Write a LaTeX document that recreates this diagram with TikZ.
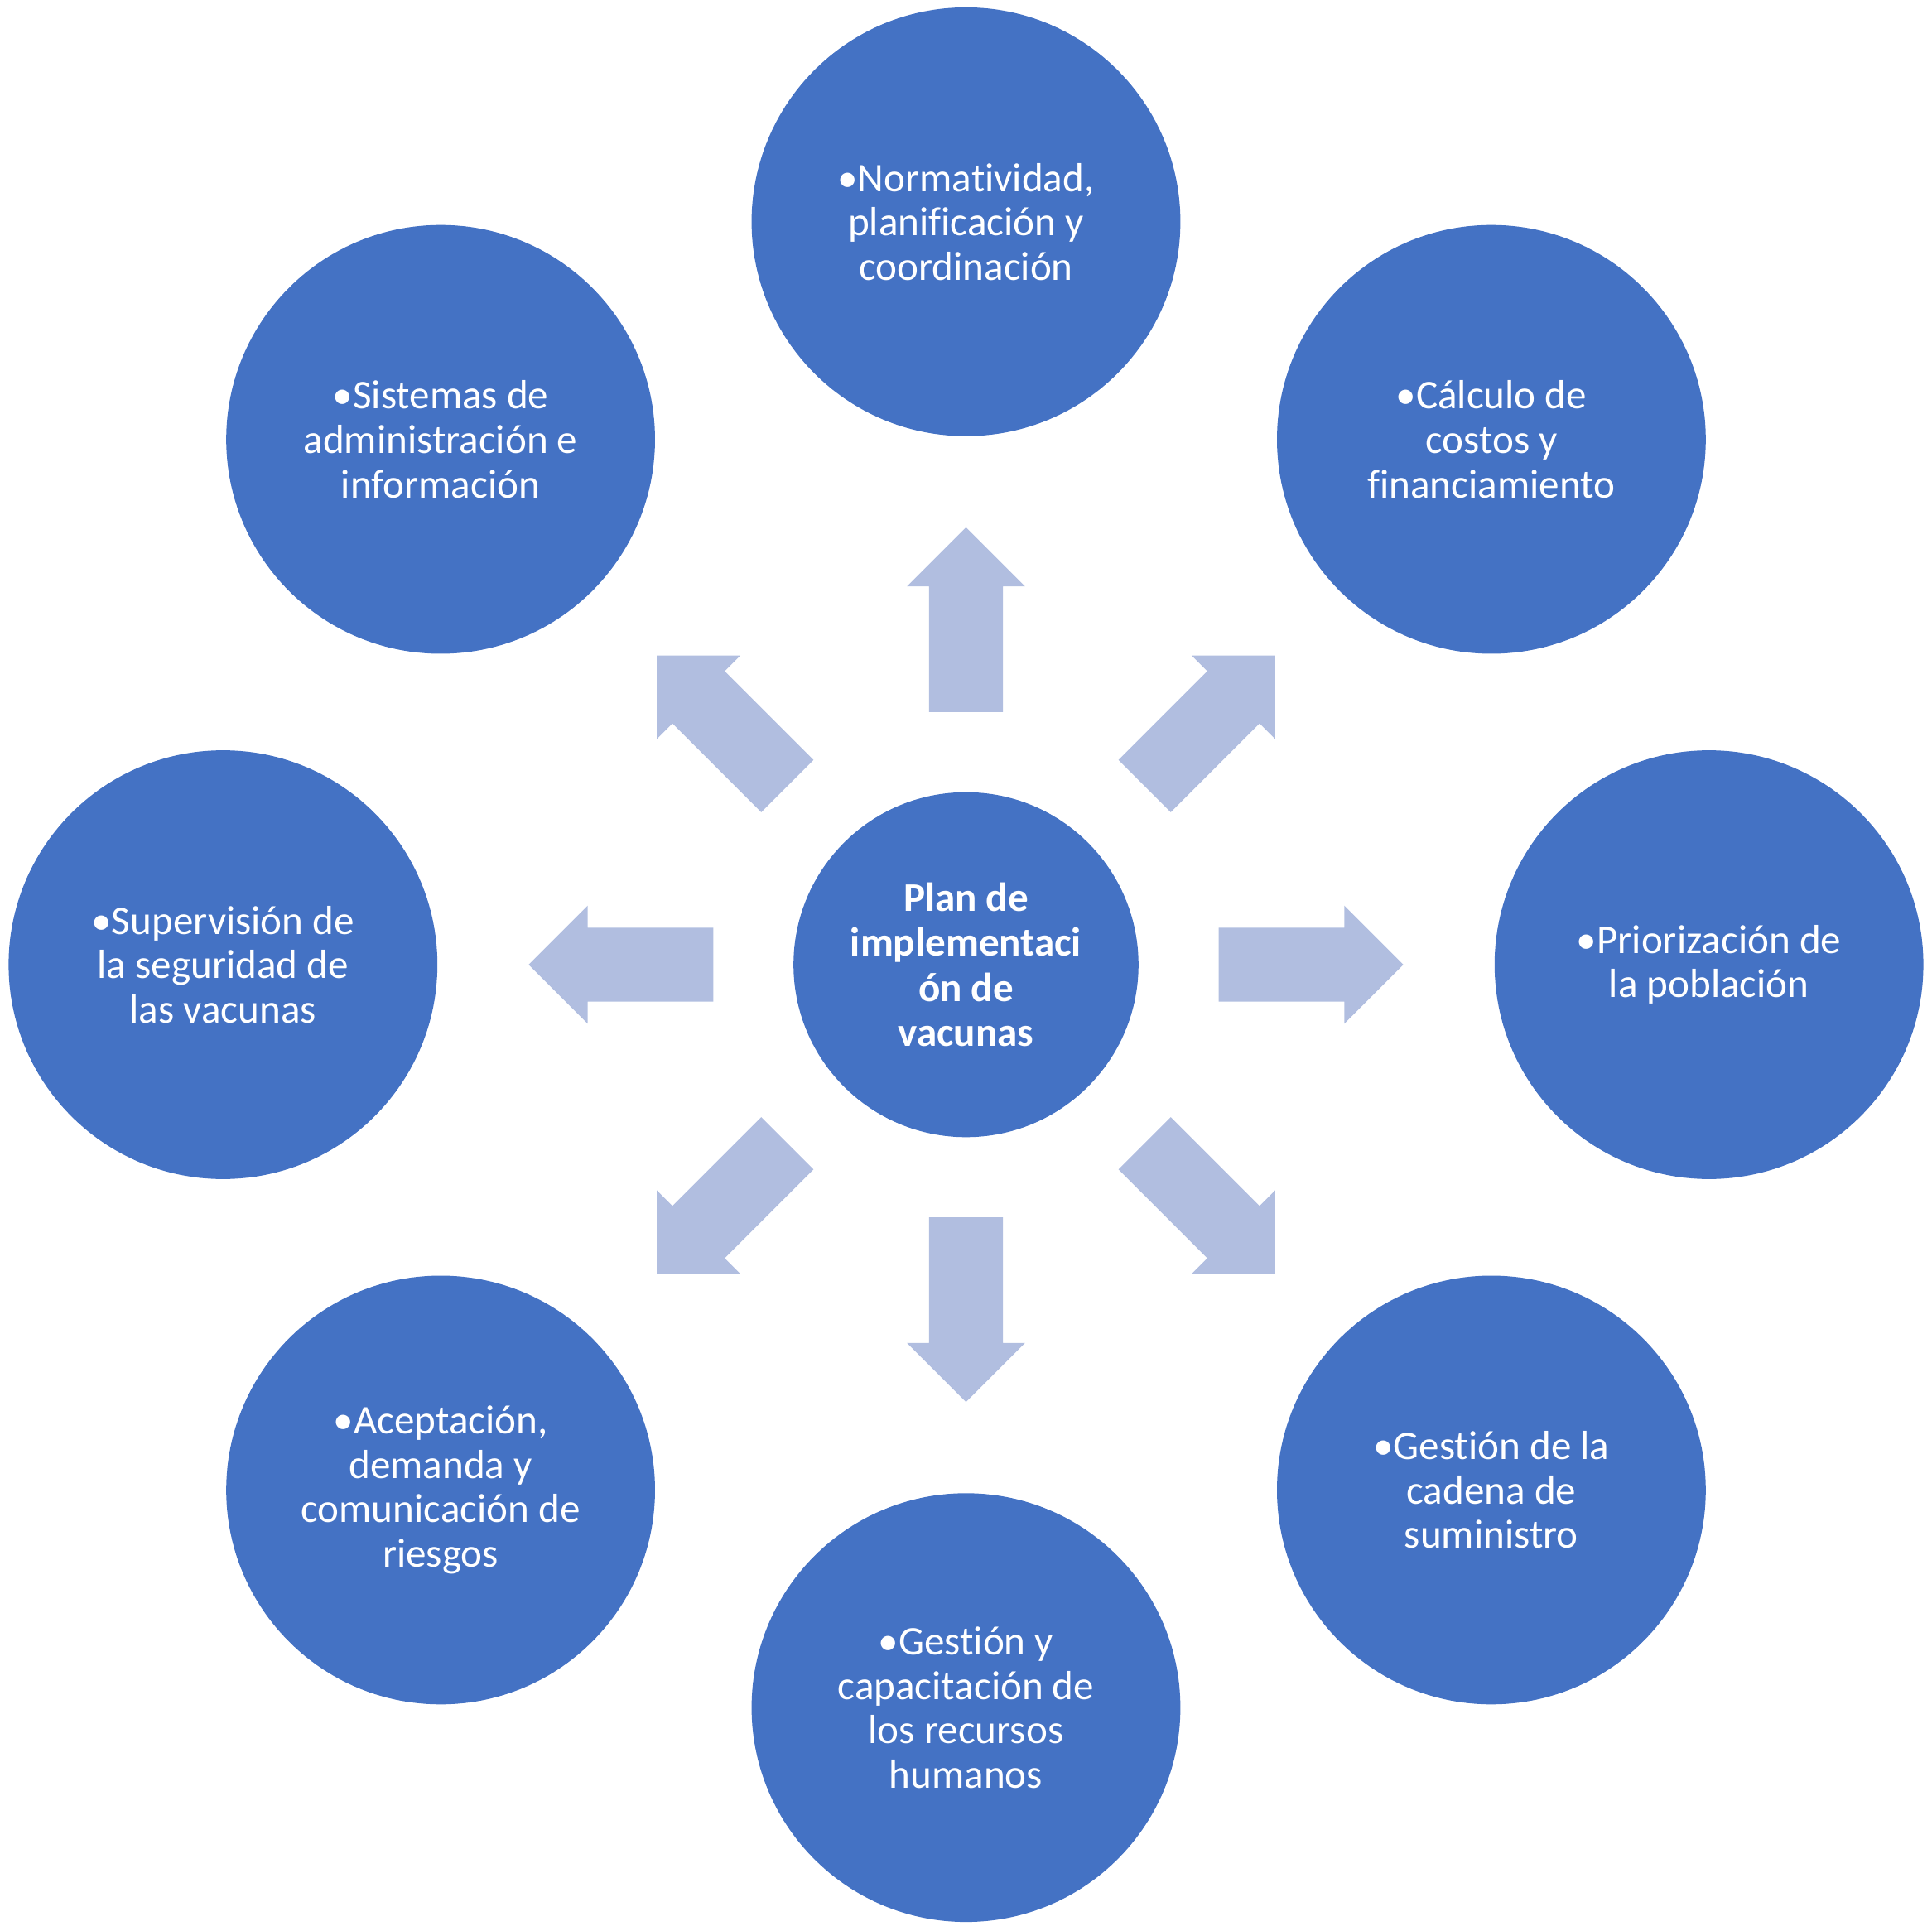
\documentclass[tikz,border=0pt]{standalone}
\usepackage{fontspec}
\setmainfont{Carlito}[Ligatures=NoCommon]
\definecolor{circblue}{RGB}{68,114,196}
\definecolor{arrowblue}{RGB}{177,190,224}

\tikzset{
  topic/.style={circle, fill=circblue, text=white, inner sep=0pt,
    minimum size=174pt, align=center, font=\fontsize{16.5}{18}\selectfont},
  hub/.style={topic, minimum size=140pt, font=\fontsize{16.5}{18.2}\selectfont\bfseries}
}

\begin{document}
\begin{tikzpicture}[x=0.5pt, y=0.5pt]

\useasboundingbox (-784,-784) rectangle (784,783);

\node [hub] (plan) at (0,0) {Plan de\\implementaci\\ón de\\vacunas};

\foreach \a in {0,45,...,315}
  \path [fill=arrowblue, rotate=\a]
  (205,-30) -- (307,-30) -- (307,-48) -- (355,0) -- (307,48) -- (307,30) -- (205,30) -- cycle;

\node [topic] (norma) at (90:603) {•Normatividad,\\planificación y\\coordinación};
\node [topic] (costos) at (45:603) {•Cálculo de\\costos y\\financiamiento};
\node [topic] (prior) at (0:603) {•Priorización de\\la población};
\node [topic] (cadena) at (-45:603) {•Gestión de la\\cadena de\\suministro};
\node [topic] (recursos) at (-90:603) {•Gestión y\\capacitación de\\los recursos\\humanos};
\node [topic] (acept) at (-135:603) {•Aceptación,\\demanda y\\comunicación de\\riesgos};
\node [topic] (superv) at (180:603) {•Supervisión de\\la seguridad de\\las vacunas};
\node [topic] (sistemas) at (135:603) {•Sistemas de\\administración e\\información};

\end{tikzpicture}
\end{document}
